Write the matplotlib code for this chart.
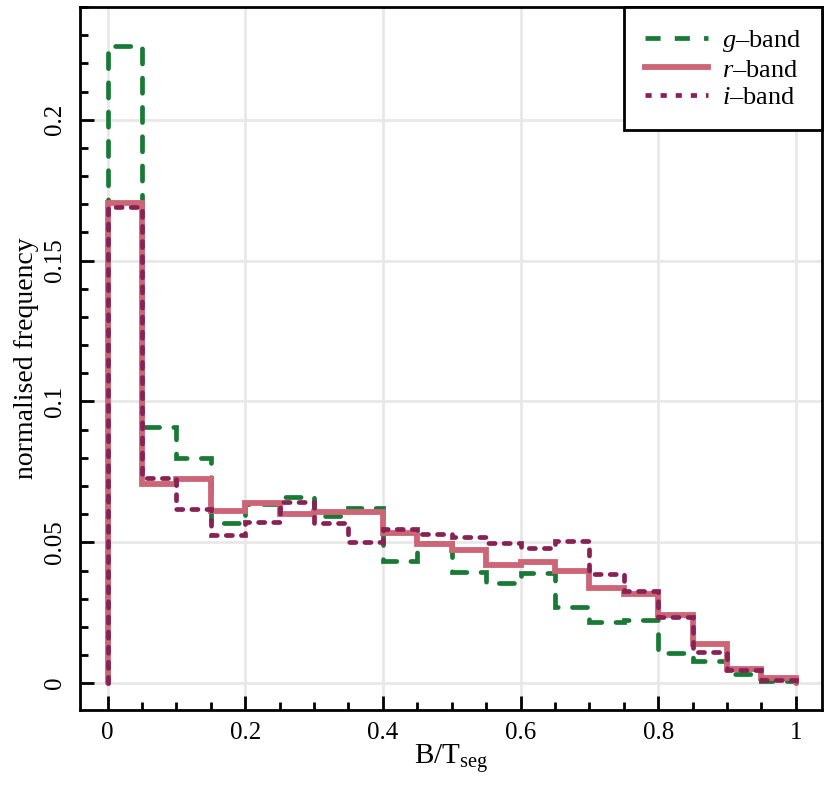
import numpy as np
import matplotlib
matplotlib.use("Agg")
import matplotlib.pyplot as plt
from matplotlib.ticker import MultipleLocator, FixedLocator

plt.rcParams['font.family'] = ['Liberation Serif', 'DejaVu Serif']
plt.rcParams['mathtext.fontset'] = 'custom'
plt.rcParams['mathtext.rm'] = 'Liberation Serif'
plt.rcParams['mathtext.it'] = 'Liberation Serif:italic'

# bin edges for B/T_seg
edges = np.round(np.arange(0, 1.0001, 0.05), 2)

g_band = [0.226, 0.091, 0.080, 0.057, 0.0637, 0.066, 0.0595, 0.0622,
          0.0435, 0.0497, 0.0396, 0.0355, 0.039, 0.027, 0.0217, 0.0223,
          0.0106, 0.0078, 0.0032, 0.0007]
r_band = [0.1705, 0.0707, 0.0725, 0.0612, 0.064, 0.060, 0.0606, 0.0606,
          0.0532, 0.0494, 0.0473, 0.042, 0.0429, 0.040, 0.0339, 0.0315,
          0.0241, 0.0138, 0.005, 0.0018]
i_band = [0.169, 0.073, 0.0618, 0.0527, 0.0573, 0.0642, 0.0568, 0.050,
          0.0548, 0.053, 0.0518, 0.0497, 0.0479, 0.0504, 0.0386, 0.0329,
          0.0235, 0.011, 0.0046, 0.001]

green = '#187a35'
rose = '#CC6677'
wine = '#882255'

fig = plt.figure(figsize=(8.3, 7.9), dpi=100)
ax = fig.add_axes([0.0964, 0.1013, 0.8940, 0.8898])

ax.grid(True, color='#e8e8e8', lw=2, zorder=0)
ax.set_axisbelow(True)

ax.stairs(g_band, edges, color=green, lw=3.4, ls=(0, (3.2, 3.0)), label='$g$–band', zorder=3)
ax.stairs(r_band, edges, color=rose, lw=4.2, label='$r$–band', zorder=4)
ax.stairs(i_band, edges, color=wine, lw=3.4, ls=(0, (1.3, 1.9)), label='$i$–band', zorder=5)
for p in ax.patches:
    p.set_capstyle('round')
    p.set_joinstyle('miter')

ax.set_xlim(-0.04, 1.038)
ax.set_ylim(-0.0095, 0.240)

ax.xaxis.set_major_locator(FixedLocator([0, 0.2, 0.4, 0.6, 0.8, 1.0]))
ax.xaxis.set_minor_locator(MultipleLocator(0.05))
ax.yaxis.set_major_locator(FixedLocator([0, 0.05, 0.1, 0.15, 0.2]))
ax.yaxis.set_minor_locator(MultipleLocator(0.01))
ax.set_xticklabels(['0', '0.2', '0.4', '0.6', '0.8', '1'])
ax.set_yticklabels(['0', '0.05', '0.1', '0.15', '0.2'], rotation=90, va='center')

ax.tick_params(which='both', direction='in', top=False, right=False, labelsize=18, width=2)
ax.tick_params(which='major', length=10)
ax.tick_params(axis='x', which='major', pad=9)
ax.tick_params(axis='y', which='major', pad=10)
ax.tick_params(which='minor', length=6)
for s in ax.spines.values():
    s.set_linewidth(2)

ax.set_xlabel(r'B$/$T$_{\rm seg}$', fontsize=21, labelpad=-2)
ax.set_ylabel('normalised frequency', fontsize=20, labelpad=4)

leg = ax.legend(loc='upper right', bbox_to_anchor=(1.0, 1.0), fontsize=19,
                frameon=True, fancybox=False, edgecolor='black', framealpha=1,
                handlelength=2.4, handletextpad=0.5, labelspacing=0.15,
                borderpad=0.8, borderaxespad=0)
leg.get_frame().set_linewidth(2)

fig.savefig('out.png', dpi=100)
